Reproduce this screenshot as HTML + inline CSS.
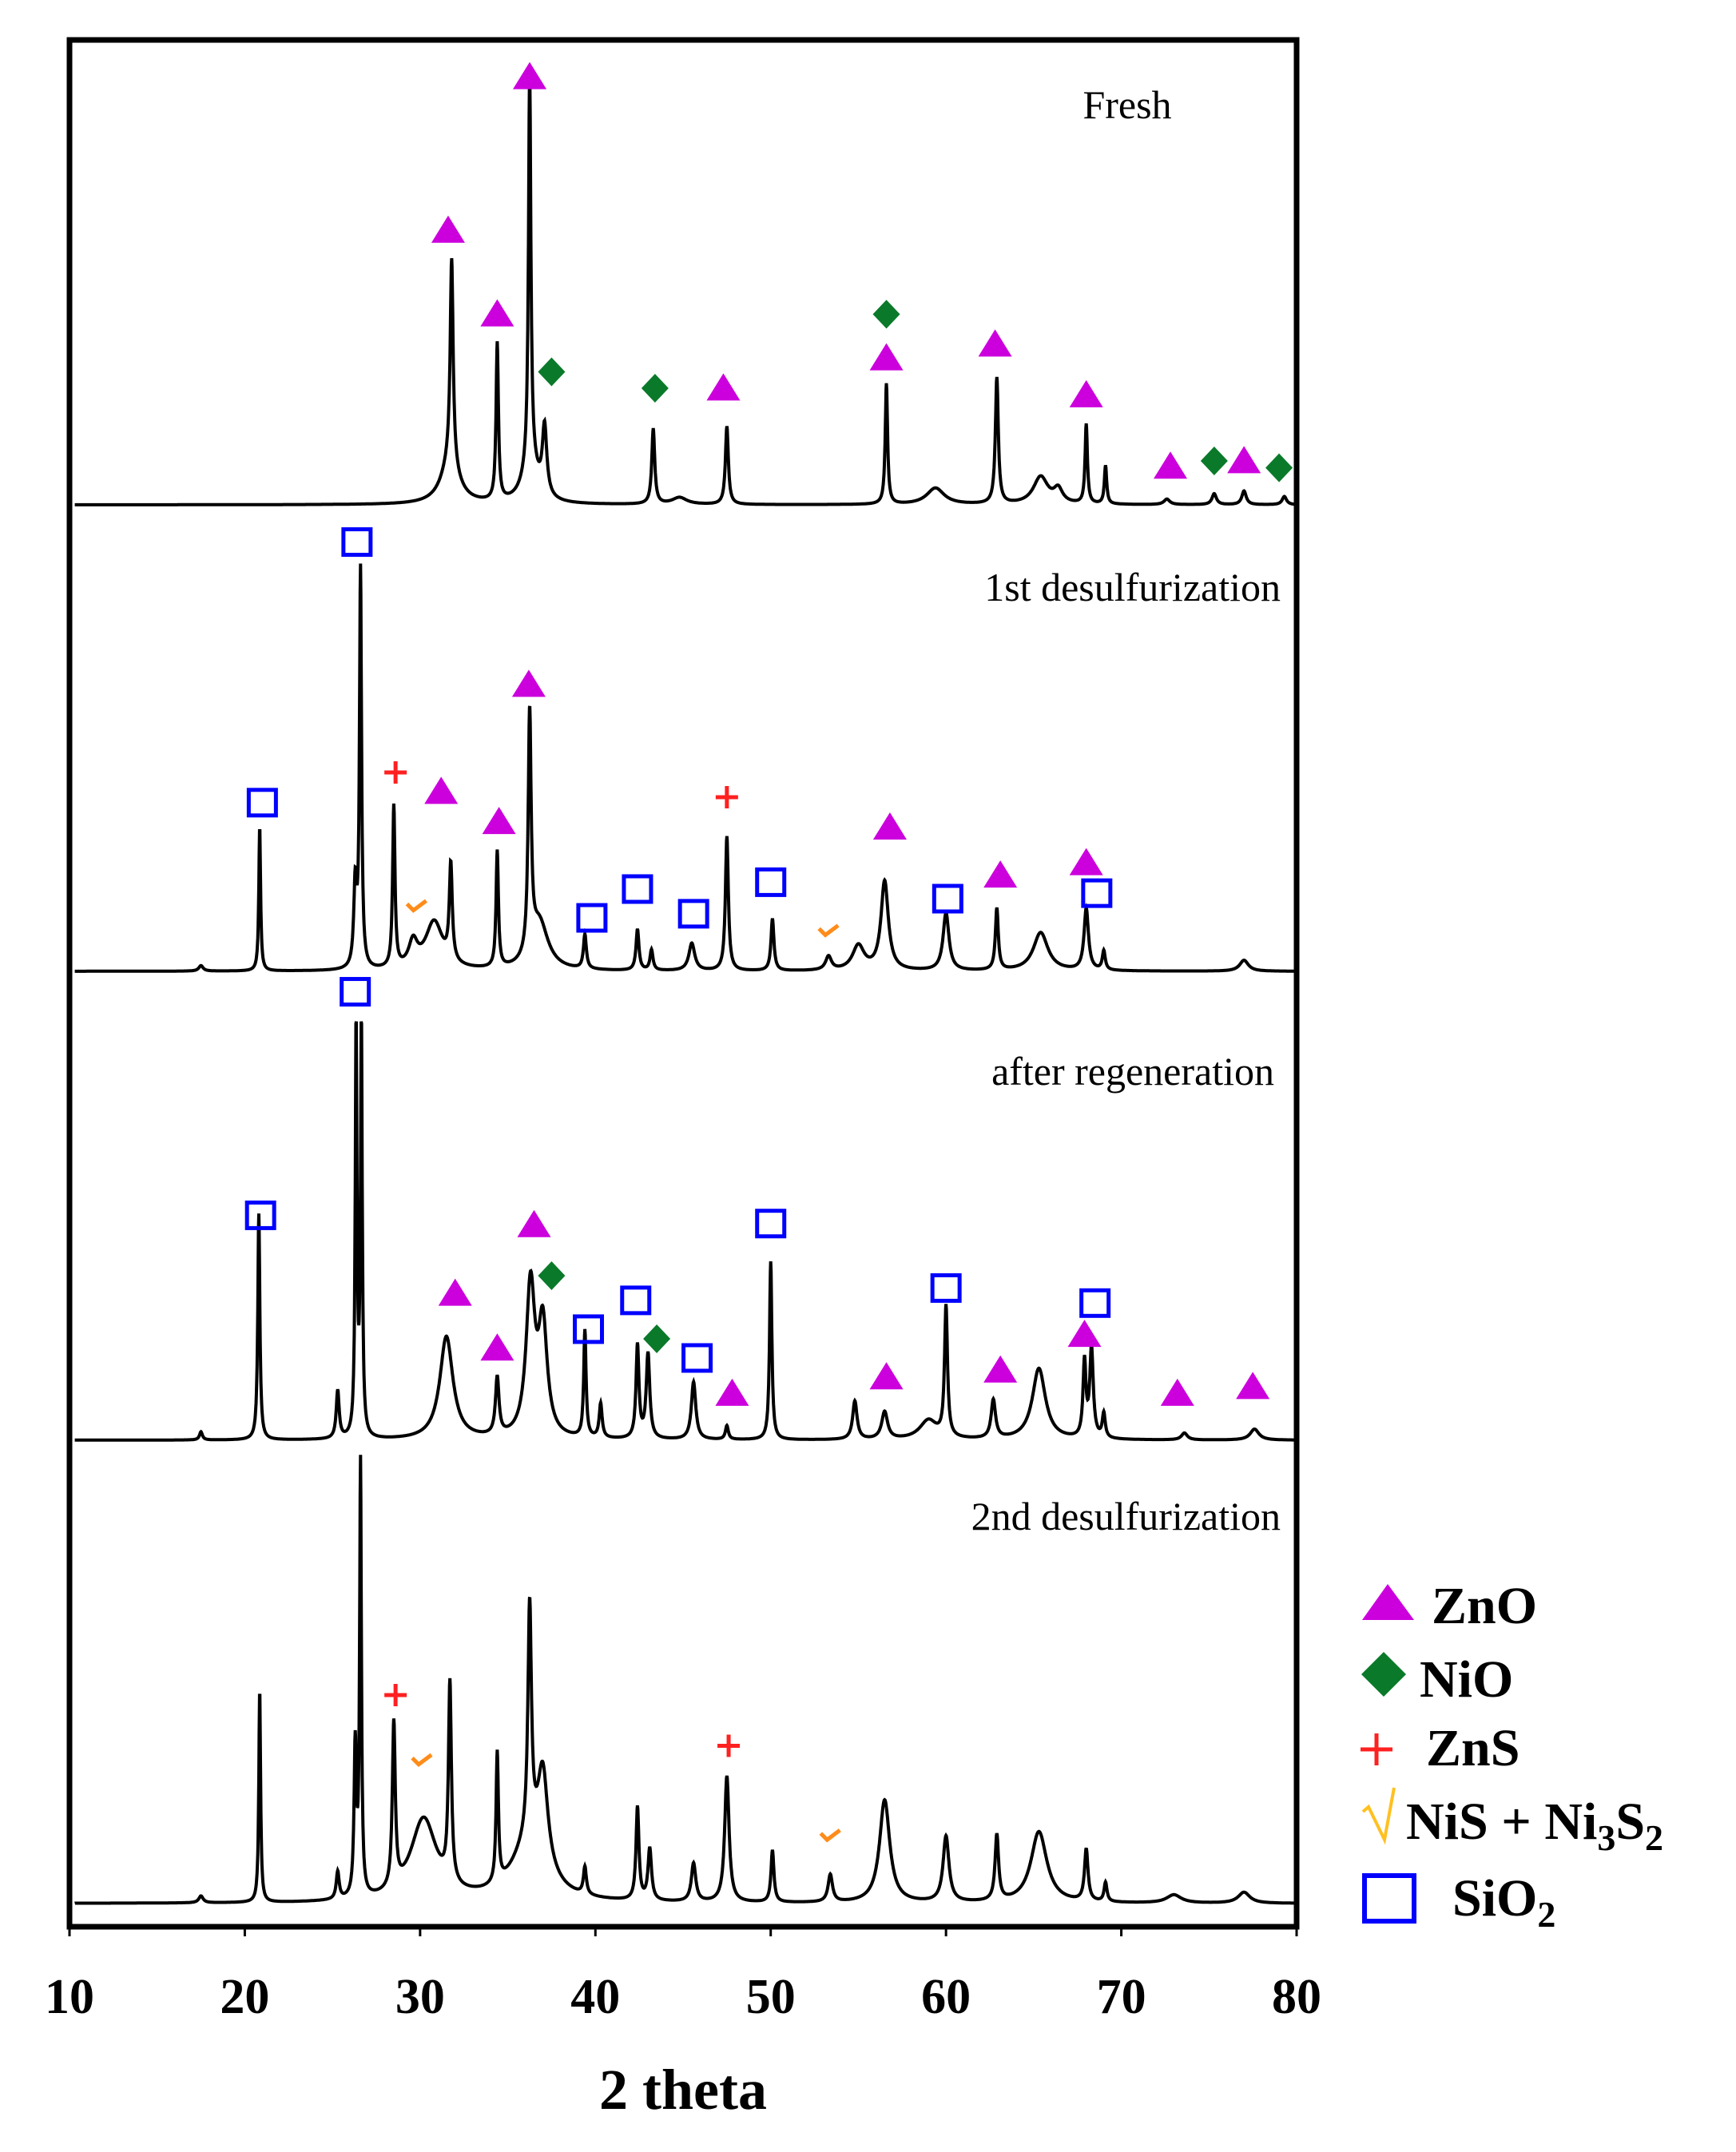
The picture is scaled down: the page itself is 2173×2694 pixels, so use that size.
<!DOCTYPE html>
<html><head><meta charset="utf-8"><style>
html,body{margin:0;padding:0;background:#fff;}
svg{display:block;}
text{font-family:"Liberation Serif",serif;}
</style></head><body>
<svg id="chart" width="2173" height="2694" viewBox="0 0 2173 2694" xmlns="http://www.w3.org/2000/svg">
<g id="traces"></g>
<g id="markers"></g>
<rect x="87" y="50" width="1536" height="2362" fill="none" stroke="#000" stroke-width="7"/>
<g id="ticks"></g>
<text x="855" y="2640" font-size="72" font-weight="bold" text-anchor="middle">2 theta</text>
<text x="1411" y="148" font-size="50" text-anchor="middle">Fresh</text>
<text x="1603" y="752" font-size="50" text-anchor="end">1st desulfurization</text>
<text x="1595" y="1358" font-size="50" text-anchor="end">after regeneration</text>
<text x="1603" y="1915" font-size="50" text-anchor="end">2nd desulfurization</text>
<g>
 <polygon points="1705,2028 1770,2028 1737,1983" fill="#cc00dd"/>
 <text x="1792" y="2032" font-size="66" font-weight="bold">ZnO</text>
 <polygon points="1732,2068 1760,2096 1732,2124 1704,2096" fill="#0a7a2a"/>
 <text x="1777" y="2124" font-size="66" font-weight="bold">NiO</text>
 <path d="M1703,2190 H1743 M1723,2170 V2210" stroke="#ff2020" stroke-width="5"/>
 <text x="1785" y="2210" font-size="66" font-weight="bold">ZnS</text>
 <path d="M1706,2268 L1713,2262 L1733,2303 L1745,2238" stroke="#ffc020" stroke-width="4" fill="none"/>
 <text x="1760" y="2302" font-size="66" font-weight="bold">NiS + Ni<tspan font-size="46" dy="14">3</tspan><tspan dy="-14">S</tspan><tspan font-size="46" dy="14">2</tspan></text>
 <rect x="1708" y="2348" width="62" height="57" fill="none" stroke="#0000ff" stroke-width="6"/>
 <text x="1818" y="2398" font-size="66" font-weight="bold">SiO<tspan font-size="46" dy="14">2</tspan></text>
</g>
</svg>
<script>
// x-axis ticks
const xTicks = [10,20,30,40,50,60,70,80];
// peak lists per pattern: [2theta, height, halfwidth]
const freshPeaks = [[31.8,150,0.1],[31.7,30,0.6],[34.4,115,0.08],[36.25,285,0.08],[36.3,30,0.5],[37.1,50,0.15],[43.3,55,0.1],[44.8,5,0.5],[47.5,57,0.1],[56.6,88,0.08],[59.4,12,0.6],[62.9,92,0.1],[65.4,20,0.5],[66.4,10,0.3],[68.0,58,0.08],[69.1,28,0.08],[72.6,4,0.2],[75.3,8,0.15],[77.0,10,0.15],[79.3,6,0.15]];
const firstPeaks = [[17.5,4,0.15],[20.85,105,0.06],[26.6,290,0.07],[26.3,60,0.1],[28.5,118,0.08],[29.6,18,0.3],[30.8,35,0.6],[31.75,70,0.1],[34.4,85,0.08],[36.25,175,0.1],[36.8,35,0.6],[39.4,25,0.1],[42.4,30,0.1],[43.2,15,0.1],[45.5,20,0.2],[47.5,98,0.1],[50.1,38,0.1],[53.3,10,0.2],[55.0,18,0.4],[56.5,65,0.25],[60.0,42,0.2],[62.9,45,0.1],[65.4,28,0.5],[68.0,45,0.15],[69.0,14,0.1],[77.0,8,0.3]];
const regenPeaks = [[17.5,6,0.1],[20.8,165,0.07],[25.3,35,0.1],[26.35,300,0.06],[26.65,300,0.06],[31.5,75,0.45],[34.4,42,0.12],[36.3,110,0.3],[37.0,80,0.3],[39.4,78,0.08],[40.3,25,0.1],[42.4,68,0.1],[43.0,62,0.12],[45.6,42,0.15],[47.5,10,0.1],[50.0,130,0.08],[54.8,28,0.15],[56.5,20,0.2],[59.0,14,0.6],[60.0,95,0.1],[62.7,28,0.15],[65.3,52,0.45],[67.9,55,0.1],[68.3,65,0.12],[69.0,18,0.1],[73.6,5,0.2],[77.6,8,0.3]];
const secondPeaks = [[17.5,5,0.15],[20.85,155,0.06],[25.3,20,0.1],[26.3,110,0.08],[26.6,315,0.06],[28.5,120,0.1],[30.2,60,0.9],[31.7,145,0.1],[34.4,95,0.08],[36.25,170,0.12],[37.0,70,0.35],[36.2,40,1.2],[39.4,20,0.1],[42.4,68,0.1],[43.1,38,0.12],[45.6,28,0.15],[47.5,92,0.15],[50.1,38,0.1],[53.4,20,0.15],[56.5,75,0.35],[60.0,48,0.2],[62.9,48,0.12],[65.3,52,0.55],[68.0,38,0.12],[69.1,14,0.1],[73.0,6,0.5],[77.0,8,0.4]];
// marker positions: [2theta, level above baseline]
const freshZnO = [[36.25,313],[31.6,201],[34.4,140],[47.3,86],[56.6,108],[62.8,118],[68.0,81],[72.8,29],[77.0,33]];
const freshNiO = [[37.5,97],[43.4,85],[56.6,139],[75.3,32],[79.0,27]];
const firstSiO2 = [[21.0,123],[26.4,313],[39.8,39],[42.4,60],[45.6,42],[50.0,65],[60.1,53],[68.6,57]];
const firstZnO = [[36.2,210],[31.2,132],[34.5,110],[56.8,106],[63.1,71],[68.0,80]];
const firstZnS = [[28.6,145],[47.5,127]];
const firstNiS = [[29.8,48],[53.3,30]];
const regenSiO2 = [[20.9,164],[26.3,327],[39.6,81],[42.3,102],[45.8,60],[50.0,158],[60.0,111],[68.5,100]];
const regenZnO = [[36.5,158],[32.0,108],[34.4,68],[47.8,35],[56.6,47],[63.1,52],[67.9,78],[73.2,35],[77.5,40]];
const regenNiO = [[37.5,120],[43.5,74]];
const secondZnS = [[28.6,152],[47.6,115]];
const secondNiS = [[30.1,105],[53.4,50]];

const NS="http://www.w3.org/2000/svg";
const X0=87,X1=1623,XMIN=10,XMAX=80,YS=1.717;
const xs=v=>X0+(v-XMIN)/(XMAX-XMIN)*(X1-X0);
const ys=(base,lev)=>base-lev*YS;
const patterns=[{n:'fresh',base:632,p:freshPeaks},{n:'1st-desulfurization',base:1216,p:firstPeaks},{n:'after-regeneration',base:1803,p:regenPeaks},{n:'2nd-desulfurization',base:2383,p:secondPeaks}];
const tg=document.getElementById('traces');
patterns.forEach(pt=>{
  let d='';
  for(let x=10.3;x<=80.0001;x+=0.02){
    let s=0;pt.p.forEach(k=>{const u=(x-k[0])/k[2];s+=k[1]/(1+u*u);});
    d+=(d?'L':'M')+xs(x).toFixed(1)+','+ys(pt.base,s).toFixed(1);
  }
  const el=document.createElementNS(NS,'path');
  el.setAttribute('d',d);el.setAttribute('fill','none');el.setAttribute('stroke','#000');el.setAttribute('stroke-width','4');
  
  
  tg.appendChild(el);
});
const mg=document.getElementById('markers');
function mk(tag,attrs,name){
  const el=document.createElementNS(NS,tag);
  for(const k in attrs)el.setAttribute(k,attrs[k]);
  
  
  mg.appendChild(el);
}
function tri(arr,base){arr.forEach(a=>{const cx=xs(a[0]),cy=ys(base,a[1]);mk('polygon',{points:`${cx-21},${cy+17} ${cx+21},${cy+17} ${cx},${cy-17}`,fill:'#cc00dd'},'zno-marker');});}
function dia(arr,base){arr.forEach(a=>{const cx=xs(a[0]),cy=ys(base,a[1]);mk('polygon',{points:`${cx},${cy-18} ${cx+17},${cy} ${cx},${cy+18} ${cx-17},${cy}`,fill:'#0a7a2a'},'nio-marker');});}
function sq(arr,base){arr.forEach(a=>{const cx=xs(a[0]),cy=ys(base,a[1]);mk('rect',{x:cx-17,y:cy-16,width:34,height:32,fill:'none',stroke:'#0000ff','stroke-width':5},'sio2-marker');});}
function plus(arr,base){arr.forEach(a=>{const cx=xs(a[0]),cy=ys(base,a[1]);mk('path',{d:`M${cx-14},${cy}H${cx+14}M${cx},${cy-14}V${cy+14}`,stroke:'#ff2020','stroke-width':5},'zns-marker');});}
function chk(arr,base){arr.forEach(a=>{const cx=xs(a[0]),cy=ys(base,a[1]);mk('path',{d:`M${cx-12},${cy-2}L${cx-4},${cy+6}L${cx+12},${cy-6}`,stroke:'#ff8c1a','stroke-width':5,fill:'none'},'nis-marker');});}
tri(freshZnO,632);dia(freshNiO,632);
sq(firstSiO2,1216);tri(firstZnO,1216);plus(firstZnS,1216);chk(firstNiS,1216);
sq(regenSiO2,1803);tri(regenZnO,1803);dia(regenNiO,1803);
plus(secondZnS,2383);chk(secondNiS,2383);
const tk=document.getElementById('ticks');
xTicks.forEach(t=>{
  const l=document.createElementNS(NS,'line');
  l.setAttribute('x1',xs(t));l.setAttribute('x2',xs(t));l.setAttribute('y1',2412);l.setAttribute('y2',2424);
  l.setAttribute('stroke','#000');l.setAttribute('stroke-width','3');
  
  
  tk.appendChild(l);
  const tx=document.createElementNS(NS,'text');
  tx.setAttribute('x',xs(t));tx.setAttribute('y',2520);tx.setAttribute('font-size','62');tx.setAttribute('font-weight','bold');tx.setAttribute('text-anchor','middle');
  tx.textContent=t;
  
  
  tk.appendChild(tx);
});
</script>
</body></html>
